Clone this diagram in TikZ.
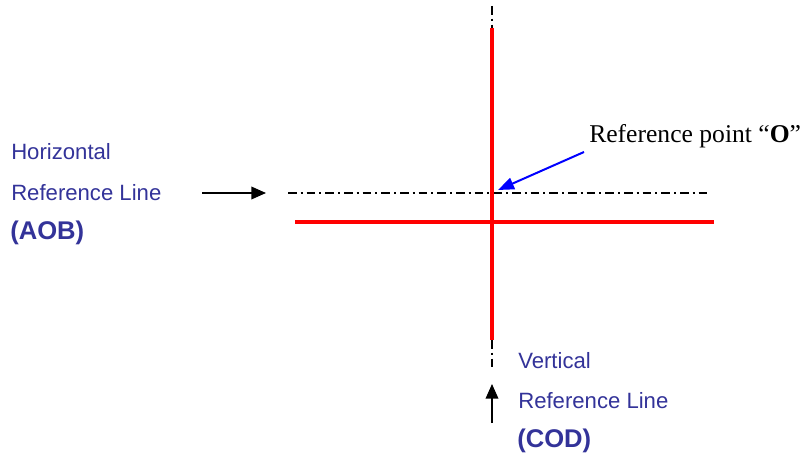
\documentclass[tikz,border=0pt]{standalone}
\usepackage{fontspec}
\setmainfont{Liberation Serif}
\newfontfamily\labelfont{Liberation Sans}
\usetikzlibrary{arrows.meta}
\definecolor{labelblue}{RGB}{51,51,153}
\tikzset{
  refline/.style={red,line width=3pt},
  centreline/.style={black,line width=1.2pt,dash pattern=on 6.5pt off 3pt on 1.5pt off 3pt},
  pointer/.style={-{Triangle[length=11pt,width=9.5pt]},line width=1.1pt},
  bluepointer/.style={-{Triangle[length=12pt,width=9pt]},line width=1.5pt,blue},
  reflabel/.style={anchor=base west,inner sep=0pt,text=labelblue,font=\labelfont\fontsize{16.6}{19}\selectfont},
  refcode/.style={reflabel,font=\labelfont\bfseries\fontsize{19.2}{22}\selectfont},
  pointlabel/.style={anchor=base west,inner sep=0pt,font=\fontsize{19.2}{22}\selectfont}
}

\begin{document}
\begin{tikzpicture}[x=0.75pt,y=-0.75pt]
  \useasboundingbox (0,0) rectangle (807,456);
  % reference lines
  \coordinate (vtop) at (492,6);
  \coordinate (C) at (492,28);
  \coordinate (D) at (492,340);
  \coordinate (vbot) at (492,368);
  \coordinate (A) at (288,193);
  \coordinate (B) at (710,193);
  \coordinate (O) at (492,193);
  \coordinate (hleft) at (295,222);
  \coordinate (hright) at (714,222);
  \draw[centreline] (vtop) -- (C);
  \draw[centreline] (D) -- (vbot);
  \draw[centreline] (A) -- (B);
  \draw[refline] (C) -- (D);
  \draw[refline] (hleft) -- (hright);
  % labels
  \node[reflabel] (hname) at (11,160) {Horizontal};
  \node[reflabel] (hline) at (11,201) {Reference Line};
  \node[refcode] (hcode) at (10,239) {(AOB)};
  \node[reflabel] (vname) at (518,368) {Vertical};
  \node[reflabel] (vline) at (518,408) {Reference Line};
  \node[refcode] (vcode) at (517,447) {(COD)};
  \node[pointlabel] (ptname) at (589,143) {Reference point “\textbf{O}”};
  % pointers
  \coordinate (hfrom) at (202,193);
  \coordinate (hto) at (266,193);
  \coordinate (vfrom) at (492,423);
  \coordinate (vto) at (492,384);
  \coordinate (ofrom) at (584,152);
  \coordinate (oto) at (498,190);
  \draw[pointer] (hfrom) -- (hto);
  \draw[pointer] (vfrom) -- (vto);
  \draw[bluepointer] (ofrom) -- (oto);
\end{tikzpicture}
\end{document}
